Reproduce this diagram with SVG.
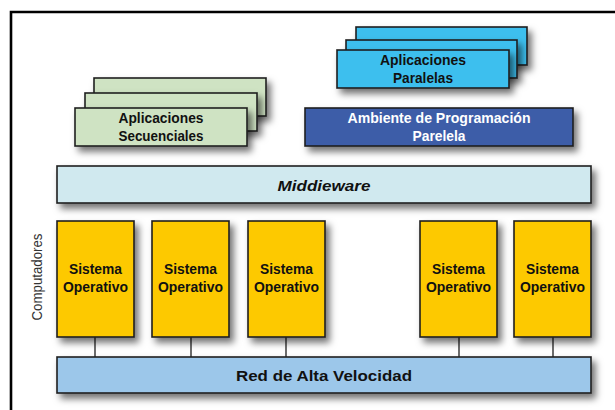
<svg xmlns="http://www.w3.org/2000/svg" width="615" height="410" viewBox="0 0 615 410">
<defs>
<filter id="sh" x="-10%" y="-20%" width="130%" height="160%">
<feDropShadow dx="4" dy="5" stdDeviation="3.5" flood-color="#000" flood-opacity="0.55"/>
</filter>
</defs>
<style>
.b{stroke:#1e1e1e;stroke-width:1.6;filter:url(#sh)}
.t{font-family:"Liberation Sans",Arial,sans-serif;font-weight:bold;font-size:15px;text-anchor:middle;fill:#111}
.w{fill:#ffffff}
.green{fill:#cfe3c3}
.cyan{fill:#3dbfee}
.dblue{fill:#3e5da8}
.mid{fill:#d0e9ef}
.yel{fill:#fdc900}
.net{fill:#9cc7ea}
.c{stroke:#1e1e1e;stroke-width:1.3;fill:none}
</style>
<rect width="615" height="410" fill="#ffffff"/>
<path d="M11,410 V12 H615" fill="none" stroke="#000" stroke-width="2.6"/>
<g id="seq">
<rect class="b green" x="94" y="78" width="172" height="38"/>
<rect class="b green" x="85" y="93" width="172" height="38"/>
<rect class="b green" x="75" y="108" width="172" height="38"/>
<text class="t" x="161" y="123" textLength="85" lengthAdjust="spacingAndGlyphs">Aplicaciones</text>
<text class="t" x="161" y="141" textLength="85" lengthAdjust="spacingAndGlyphs">Secuenciales</text>
</g>
<g id="par">
<rect class="b cyan" x="356" y="27" width="171" height="38"/>
<rect class="b cyan" x="346" y="40" width="171" height="38"/>
<rect class="b cyan" x="337" y="50" width="172" height="38"/>
<text class="t" x="423" y="65" textLength="86" lengthAdjust="spacingAndGlyphs">Aplicaciones</text>
<text class="t" x="423" y="83" textLength="60" lengthAdjust="spacingAndGlyphs">Paralelas</text>
</g>
<g id="amb">
<rect class="b dblue" x="305" y="108" width="268" height="38"/>
<text class="t w" x="439" y="123" textLength="183" lengthAdjust="spacingAndGlyphs">Ambiente de Programación</text>
<text class="t w" x="439" y="141" textLength="53" lengthAdjust="spacingAndGlyphs">Parelela</text>
</g>
<g id="middleware">
<rect class="b mid" x="57" y="166" width="534" height="37"/>
<text class="t" x="324" y="191" font-style="italic" font-size="17" textLength="93" lengthAdjust="spacingAndGlyphs">Middieware</text>
</g>
<g id="conn">
<line class="c" x1="95" y1="337" x2="95" y2="357"/>
<line class="c" x1="191" y1="337" x2="191" y2="357"/>
<line class="c" x1="286" y1="337" x2="286" y2="357"/>
<line class="c" x1="459" y1="337" x2="459" y2="357"/>
<line class="c" x1="553" y1="337" x2="553" y2="357"/>
</g>
<g id="so1">
<rect class="b yel" x="57" y="221" width="77" height="116"/>
<text class="t" x="95.5" y="274" textLength="53" lengthAdjust="spacingAndGlyphs">Sistema</text>
<text class="t" x="95.5" y="292" textLength="65" lengthAdjust="spacingAndGlyphs">Operativo</text>
</g>
<g id="so2">
<rect class="b yel" x="152" y="221" width="77" height="116"/>
<text class="t" x="190.5" y="274" textLength="53" lengthAdjust="spacingAndGlyphs">Sistema</text>
<text class="t" x="190.5" y="292" textLength="65" lengthAdjust="spacingAndGlyphs">Operativo</text>
</g>
<g id="so3">
<rect class="b yel" x="248" y="221" width="77" height="116"/>
<text class="t" x="286.5" y="274" textLength="53" lengthAdjust="spacingAndGlyphs">Sistema</text>
<text class="t" x="286.5" y="292" textLength="65" lengthAdjust="spacingAndGlyphs">Operativo</text>
</g>
<g id="so4">
<rect class="b yel" x="420" y="221" width="77" height="116"/>
<text class="t" x="458.5" y="274" textLength="53" lengthAdjust="spacingAndGlyphs">Sistema</text>
<text class="t" x="458.5" y="292" textLength="65" lengthAdjust="spacingAndGlyphs">Operativo</text>
</g>
<g id="so5">
<rect class="b yel" x="514" y="221" width="77" height="116"/>
<text class="t" x="552.5" y="274" textLength="53" lengthAdjust="spacingAndGlyphs">Sistema</text>
<text class="t" x="552.5" y="292" textLength="65" lengthAdjust="spacingAndGlyphs">Operativo</text>
</g>
<g id="net">
<rect class="b net" x="57" y="357" width="534" height="36"/>
<text class="t" x="324" y="381" font-size="18" textLength="176" lengthAdjust="spacingAndGlyphs">Red de Alta Velocidad</text>
</g>
<text x="42" y="277" transform="rotate(-90 42 277)" font-family="'Liberation Sans',Arial,sans-serif" font-size="14" fill="#333" text-anchor="middle" textLength="87" lengthAdjust="spacingAndGlyphs">Computadores</text>
</svg>
